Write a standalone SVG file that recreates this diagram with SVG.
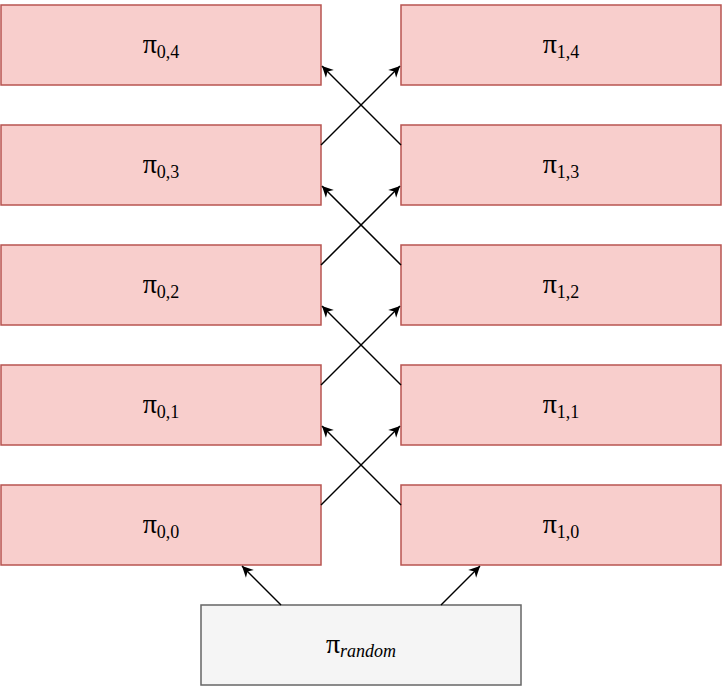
<svg xmlns="http://www.w3.org/2000/svg" width="722" height="690" viewBox="0 0 722 690">
<defs>
<style>
.n{fill:#f8cecc;stroke:#b85450;stroke-width:1.5}
.r{fill:#f5f5f5;stroke:#666666;stroke-width:1.5}
.t{font-family:"Liberation Serif","DejaVu Serif",serif;font-size:28px;fill:#000;text-anchor:middle}
.s{font-size:18px}
.c line{stroke:#000;stroke-width:1.5;marker-end:url(#a)}
</style>
<marker id="a" viewBox="0 0 10 10" refX="9" refY="5" markerWidth="8" markerHeight="8" orient="auto" markerUnits="userSpaceOnUse" overflow="visible">
<path d="M0,0 L10,5 L0,10 L3,5 Z" fill="#000" transform="scale(1.4) translate(-3.5,-1.4)"/>
</marker>
</defs>
<g id="p04"><rect class="n" x="1" y="5" width="320" height="80"/><text class="t" x="161" y="53">π<tspan class="s" dy="5">0,4</tspan></text></g>
<g id="p03"><rect class="n" x="1" y="125" width="320" height="80"/><text class="t" x="161" y="173">π<tspan class="s" dy="5">0,3</tspan></text></g>
<g id="p02"><rect class="n" x="1" y="245" width="320" height="80"/><text class="t" x="161" y="293">π<tspan class="s" dy="5">0,2</tspan></text></g>
<g id="p01"><rect class="n" x="1" y="365" width="320" height="80"/><text class="t" x="161" y="413">π<tspan class="s" dy="5">0,1</tspan></text></g>
<g id="p00"><rect class="n" x="1" y="485" width="320" height="80"/><text class="t" x="161" y="533">π<tspan class="s" dy="5">0,0</tspan></text></g>
<g id="p14"><rect class="n" x="401" y="5" width="320" height="80"/><text class="t" x="561" y="53">π<tspan class="s" dy="5">1,4</tspan></text></g>
<g id="p13"><rect class="n" x="401" y="125" width="320" height="80"/><text class="t" x="561" y="173">π<tspan class="s" dy="5">1,3</tspan></text></g>
<g id="p12"><rect class="n" x="401" y="245" width="320" height="80"/><text class="t" x="561" y="293">π<tspan class="s" dy="5">1,2</tspan></text></g>
<g id="p11"><rect class="n" x="401" y="365" width="320" height="80"/><text class="t" x="561" y="413">π<tspan class="s" dy="5">1,1</tspan></text></g>
<g id="p10"><rect class="n" x="401" y="485" width="320" height="80"/><text class="t" x="561" y="533">π<tspan class="s" dy="5">1,0</tspan></text></g>
<g id="prand"><rect class="r" x="201" y="605" width="320" height="80"/><text class="t" x="361" y="653">π<tspan class="s" dy="4" font-style="italic">random</tspan></text></g>
<g class="c" id="connectors">
<line x1="281" y1="605" x2="242" y2="566"/>
<line x1="441" y1="605" x2="480" y2="566"/>
<line x1="321" y1="505" x2="400" y2="426"/>
<line x1="401" y1="505" x2="322" y2="426"/>
<line x1="321" y1="385" x2="400" y2="306"/>
<line x1="401" y1="385" x2="322" y2="306"/>
<line x1="321" y1="265" x2="400" y2="186"/>
<line x1="401" y1="265" x2="322" y2="186"/>
<line x1="321" y1="145" x2="400" y2="66"/>
<line x1="401" y1="145" x2="322" y2="66"/>
</g>
</svg>
